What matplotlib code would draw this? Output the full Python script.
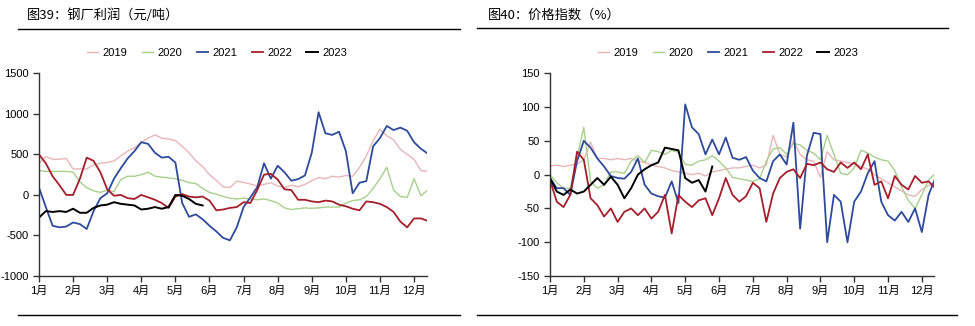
import numpy as np
import matplotlib
matplotlib.use("Agg")
import matplotlib.pyplot as plt
from matplotlib.lines import Line2D

plt.rcParams['font.family'] = ['Liberation Sans', 'Noto Sans CJK SC']
plt.rcParams['axes.unicode_minus'] = False

# x positions in months after 1 Jan, one reading every 0.2 month
months = np.arange(58) * 0.2
month_labels = ['1月', '2月', '3月', '4月', '5月', '6月',
                '7月', '8月', '9月', '10月', '11月', '12月']
years = ['2019', '2020', '2021', '2022', '2023']

# 图39 钢厂利润（元/吨）
profit_2019 = [390, 470, 440, 440, 450, 320, 320, 320, 370, 390,
               400, 420, 480, 540, 580, 650, 700, 740, 700, 690,
               670, 600, 520, 420, 350, 250, 180, 100, 90, 170,
               155, 134, 110, 130, 150, 110, 90, 120, 100, 130,
               175, 215, 200, 230, 220, 240, 230, 340, 480, 670,
               810, 730, 680, 560, 500, 440, 300, 290]
profit_2020 = [300, 290, 290, 290, 290, 280, 160, 90, 50, 30,
               60, 40, 190, 230, 230, 250, 280, 230, 220, 210,
               200, 180, 150, 140, 80, 30, 10, -20, -40, -50,
               -40, -50, -60, -50, -70, -100, -160, -180, -170, -160,
               -165, -160, -150, -150, -150, -100, -70, -60, -20, 80,
               200, 340, 60, -20, -30, 200, -10, 60]
profit_2021 = [90, -150, -380, -400, -390, -340, -360, -420, -200, -40,
               20, 200, 330, 450, 540, 650, 630, 520, 460, 470,
               400, -100, -270, -240, -300, -380, -450, -530, -560, -400,
               -150, -30, 95, 390, 200, 360, 280, 175, 195, 240,
               520, 1020, 760, 740, 780, 540, 20, 150, 170, 600,
               700, 850, 800, 830, 790, 650, 570, 510]
profit_2022 = [500, 390, 230, 120, 0, 0, 200, 460, 420, 280,
               70, -10, 0, -40, -50, 0, -30, -60, -100, -160,
               -20, 10, -20, -30, -20, -70, -190, -180, -160, -150,
               -90, -100, 60, 250, 260, 190, 70, 60, -60, -60,
               -80, -90, -70, -80, -120, -140, -170, -190, -80, -90,
               -110, -150, -210, -330, -400, -290, -290, -320]
profit_2023 = [-280, -200, -210, -200, -210, -170, -220, -220, -160, -130,
               -120, -90, -110, -120, -130, -180, -170, -150, -170, -150,
               0, -10, -50, -110, -130]

# 图40 价格指数（%）
index_2019 = [13, 14, 12, 14, 16, 22, 48, 24, 24, 22,
              24, 22, 24, 20, 18, 14, 12, 10, 6, 4,
              2, 0, 2, -2, 4, 6, 8, 10, 10, 12,
              14, 10, 14, 58, 30, 26, 50, 30, 22, 20,
              -4, 34, 22, 20, 18, 16, 12, 8, 0, -6,
              -12, -18, -24, -30, -32, -22, -16, -14]
index_2020 = [0, -12, -20, -20, 25, 70, -10, -20, -15, 4,
              4, 2, 20, 28, 18, 36, 34, 30, 36, 33,
              15, 14, 20, 22, 28, 20, 10, -4, -6, -8,
              -10, -6, 20, 38, 40, 30, 46, 44, 36, 32,
              22, 58, 30, 2, 0, 10, 36, 32, 26, 22,
              20, 6, -18, -38, -50, -30, -8, 2]
index_2021 = [-5, -20, -20, -30, 20, 50, 40, 24, 12, -2,
              -5, -6, 4, 24, -15, -28, -32, -34, -10, -42,
              104, 70, 60, 30, 52, 30, 55, 25, 22, 26,
              6, -5, -10, 20, 30, 15, 77, -80, 28, 62,
              60, -100, -30, -40, -100, -40, -25, 2, 20, -40,
              -60, -68, -55, -70, -50, -85, -30, -5]
index_2022 = [-8, -40, -48, -30, 34, 22, -35, -45, -62, -50,
              -70, -55, -50, -60, -50, -65, -55, -30, -87, -30,
              -40, -48, -38, -35, -60, -35, -5, -30, -40, -32,
              -12, -20, -70, -28, -5, 4, 8, -5, 16, 14,
              18, 8, 4, 18, 10, 18, 8, 30, -15, -10,
              -35, -2, -15, -22, -2, -12, -10, -20]
index_2023 = [-5, -25, -30, -22, -28, -25, -15, -5, -15, -3,
              -15, -35, -20, 0, 8, 14, 18, 40, 38, 36,
              -5, -12, -8, -25, 12]

colors = ['#e8b6b9', '#a8d08c', '#2e4a9b', '#a51e2b', '#000000']
widths = [1.0, 1.0, 1.3, 1.3, 1.4]

W, H = 975, 326


def fx(px):
    return px / W


def fy(py):
    return 1 - py / H


def draw_panel(fig, rect, series, ylim, yticks, xmax, legend_x):
    ax = fig.add_axes(rect)
    for vals, year, c, w in zip(series, years, colors, widths):
        ax.plot(months[:len(vals)], vals, color=c, lw=w, label=year)
    ax.set_xlim(0, xmax)
    ax.set_ylim(*ylim)
    ax.set_yticks(yticks)
    ax.set_xticks(range(12))
    ax.set_xticklabels(month_labels)
    for s in ['top', 'right']:
        ax.spines[s].set_visible(False)
    for s in ['left', 'bottom']:
        ax.spines[s].set_color('#333333')
        ax.spines[s].set_linewidth(1.0)
    ax.tick_params(axis='both', direction='out', length=4, width=1,
                   color='#333333', labelsize=8)
    ax.tick_params(axis='x', pad=3)
    ax.legend(loc='center', bbox_to_anchor=(fx(legend_x), fy(53)),
              bbox_transform=fig.transFigure, ncol=5, frameon=False,
              fontsize=8, handlelength=1.0, handletextpad=0.4,
              columnspacing=1.3)
    return ax


def hline(fig, x0, x1, y):
    fig.add_artist(Line2D([fx(x0), fx(x1)], [fy(y), fy(y)],
                          transform=fig.transFigure, color='black', lw=1.0))


fig = plt.figure(figsize=(W / 100, H / 100), dpi=100)

draw_panel(fig, [fx(39), fy(276), fx(427 - 39), (276 - 73.3) / H],
           [profit_2019, profit_2020, profit_2021, profit_2022, profit_2023],
           (-1000, 1500), range(-1000, 1501, 500), 11.38, 217)
draw_panel(fig, [fx(550), fy(276), fx(934 - 550), (276 - 73.3) / H],
           [index_2019, index_2020, index_2021, index_2022, index_2023],
           (-150, 150), range(-150, 151, 50), 11.36, 728)

fig.text(fx(27), fy(15), '图39：钢厂利润（元/吨）', fontsize=9.5,
         ha='left', va='center', family=['Noto Sans CJK SC'])
fig.text(fx(488), fy(15), '图40：价格指数（%）', fontsize=9.5,
         ha='left', va='center', family=['Noto Sans CJK SC'])

hline(fig, 18, 460, 29)
hline(fig, 18, 460, 315)
hline(fig, 477, 948, 28)
hline(fig, 477, 957, 315)

plt.savefig('out.png', dpi=100)
